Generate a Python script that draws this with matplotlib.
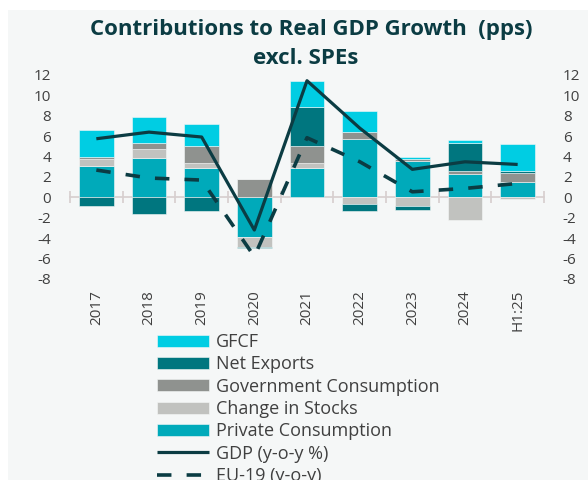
import numpy as np
import matplotlib
matplotlib.use('Agg')
import matplotlib.pyplot as plt
from matplotlib.patches import Rectangle

plt.rcParams['font.family'] = ['Open Sans', 'DejaVu Sans']
plt.rcParams['axes.unicode_minus'] = False

# data (pps)
years = ['2017', '2018', '2019', '2020', '2021', '2022', '2023', '2024', 'H1:25']
private_cons = [3.07, 3.89, 2.91, -3.86, 2.91, 5.69, 3.55, 2.31, 1.53]
stocks = [0.69, 0.88, 0.46, -1.04, 0.49, -0.66, -0.80, -2.20, -0.15]
gov_cons = [0.23, 0.52, 1.70, 1.76, 1.63, 0.75, 0.17, 0.30, 0.88]
net_exports = [-0.82, -1.63, -1.31, -0.10, 3.86, -0.72, -0.40, 2.74, 0.16]
gfcf = [2.58, 2.59, 2.15, 0.00, 2.51, 2.06, 0.20, 0.26, 2.65]
gdp = [5.75, 6.40, 5.92, -3.20, 11.44, 6.80, 2.75, 3.49, 3.23]
eu19 = [2.68, 1.90, 1.70, -5.80, 5.85, 3.50, 0.55, 0.88, 1.37]

bg = '#F5F7F7'
dark = '#0B3C43'
txt = '#404040'

fig = plt.figure(figsize=(5.88, 4.8), dpi=100, facecolor='white')
fig.patches.append(Rectangle((8 / 588, 0), 1, 470 / 480, transform=fig.transFigure,
                             facecolor=bg, edgecolor='none', zorder=-10))

ax = fig.add_axes([70 / 588, 1 - 279 / 480, 474 / 588, 204 / 480])
ax.set_facecolor('none')

x = np.arange(len(years))
w = 0.66

# stack positives up and negatives down, private consumption first
series = [
    (private_cons, '#00AABA', 'Private Consumption'),
    (stocks, '#C1C2BF', 'Change in Stocks'),
    (gov_cons, '#8F928F', 'Government Consumption'),
    (net_exports, '#00767F', 'Net Exports'),
    (gfcf, '#00CDE3', 'GFCF'),
]
pos = np.zeros(len(years))
neg = np.zeros(len(years))
handles = {}
for vals, col, name in series:
    v = np.array(vals)
    bottom = np.where(v >= 0, pos, neg)
    b = ax.bar(x, v, w, bottom=bottom, color=col, edgecolor=bg, linewidth=0.4,
               zorder=2, label=name)
    handles[name] = b
    pos = pos + np.where(v >= 0, v, 0)
    neg = neg + np.where(v < 0, v, 0)

ln1, = ax.plot(x, gdp, color=dark, lw=2.3, zorder=3, solid_capstyle='butt')
ln2, = ax.plot(x, eu19, color=dark, lw=2.6, zorder=3, dashes=(4, 4.2))

ax.set_xlim(-0.5, len(years) - 0.5)
ax.set_ylim(-8, 12)
ax.set_yticks(np.arange(-8, 13, 2))
ax.tick_params(axis='y', left=False, right=False, labelleft=True, labelright=True,
               labelsize=11, labelcolor=txt, pad=10)

for s in ['top', 'left', 'right']:
    ax.spines[s].set_visible(False)
ax.spines['bottom'].set_position(('data', 0))
ax.spines['bottom'].set_color('#D6CECE')
ax.spines['bottom'].set_linewidth(1.2)
ax.spines['bottom'].set_zorder(1)
ax.set_xticks(np.arange(-0.5, len(years), 1))
ax.tick_params(axis='x', direction='inout', length=9, width=1.2, color='#D6CECE',
               labelbottom=False)

sec = ax.secondary_xaxis('bottom')
sec.set_xticks(x, labels=years, rotation=90)
sec.tick_params(length=0, pad=8, labelsize=11, labelcolor=txt)
sec.spines['bottom'].set_visible(False)

fig.text(311 / 588, 1 - 29 / 480, 'Contributions to Real GDP Growth  (pps)',
         ha='center', va='center', fontsize=16, fontweight='bold', color=dark)
fig.text(306 / 588, 1 - 58 / 480, 'excl. SPEs',
         ha='center', va='center', fontsize=16, fontweight='bold', color=dark)

leg_handles = [handles['GFCF'], handles['Net Exports'], handles['Government Consumption'],
               handles['Change in Stocks'], handles['Private Consumption'], ln1, ln2]
leg_labels = ['GFCF', 'Net Exports', 'Government Consumption', 'Change in Stocks',
              'Private Consumption', 'GDP (y-o-y %)', 'EU-19 (y-o-y)']
fig.legend(leg_handles, leg_labels, loc='upper left', bbox_to_anchor=(157 / 588, 1 - 333 / 480),
           frameon=False, fontsize=13, borderpad=0, borderaxespad=0,
           handlelength=2.9, handleheight=0.65, handletextpad=0.35, labelspacing=0.24,
           labelcolor=txt)

fig.savefig('out.png', dpi=100, facecolor='white')
